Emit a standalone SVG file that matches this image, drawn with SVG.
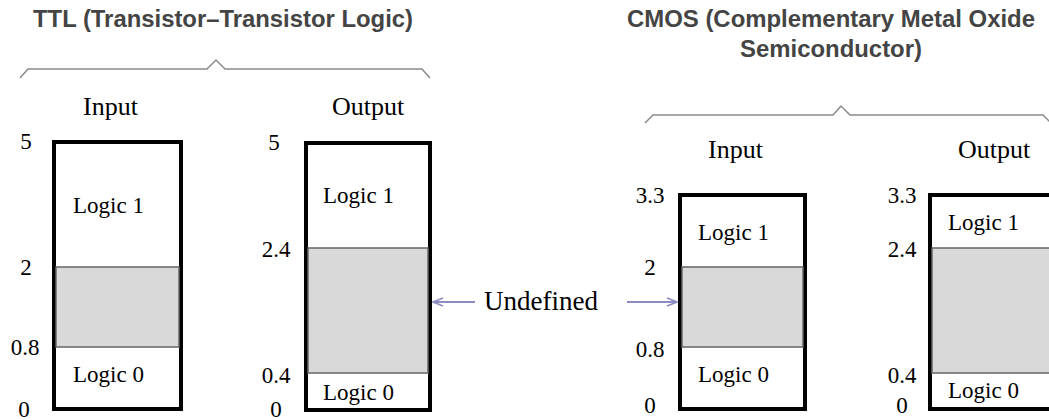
<svg xmlns="http://www.w3.org/2000/svg" width="1049" height="420" viewBox="0 0 1049 420">
  <style>
    .title { font-family: "Liberation Sans", Arial, sans-serif; font-weight: bold; font-size: 23px; fill: #444; }
    .head { font-family: "Liberation Serif", "Times New Roman", serif; font-size: 26px; fill: #000; }
    .lbl { font-family: "Liberation Serif", "Times New Roman", serif; font-size: 23px; fill: #000; }
    .num { font-family: "Liberation Serif", "Times New Roman", serif; font-size: 23px; fill: #000; text-anchor: middle; }
    .brace { fill: none; stroke: #8a8a8a; stroke-width: 1.5; }
    .box { fill: #fff; stroke: #000; stroke-width: 4; }
    .band { fill: #d9d9d9; stroke: #666; stroke-width: 1.5; }
    .arrow { fill: none; stroke: #8c8cc0; stroke-width: 2; }
    .note { font-family: "Liberation Serif", "Times New Roman", serif; font-size: 27px; fill: #000; }
  </style>
  <defs>
    <marker id="openHead" viewBox="0 0 12 10" refX="11" refY="5" markerWidth="12" markerHeight="10" markerUnits="userSpaceOnUse" orient="auto">
      <path d="M1 1 L11 5 L1 9" fill="none" stroke="#8c8cc0" stroke-width="1.6"/>
    </marker>
  </defs>

  <!-- TTL family -->
  <g id="ttl-title">
    <text class="title" x="33" y="27" textLength="380" lengthAdjust="spacingAndGlyphs">TTL (Transistor–Transistor Logic)</text>
    <path class="brace" d="M20 78 L28 69 L207 69 L216 60 L225 69 L422 69 L430 78"/>
  </g>

  <g id="ttl-input">
    <text class="head" x="83" y="115">Input</text>
    <rect class="box" x="54" y="142" width="127" height="267"/>
    <rect class="band" x="56" y="267" width="123" height="80"/>
    <text class="lbl" x="73" y="213">Logic 1</text>
    <text class="lbl" x="73" y="382">Logic 0</text>
    <text class="num" x="26" y="149">5</text>
    <text class="num" x="26" y="275">2</text>
    <text class="num" x="25" y="355">0.8</text>
    <text class="num" x="24" y="417">0</text>
  </g>

  <g id="ttl-output">
    <text class="head" x="332" y="115">Output</text>
    <rect class="box" x="306" y="143" width="124" height="267"/>
    <rect class="band" x="308" y="248" width="120" height="125"/>
    <text class="lbl" x="323" y="203">Logic 1</text>
    <text class="lbl" x="323" y="400">Logic 0</text>
    <text class="num" x="274" y="150">5</text>
    <text class="num" x="276" y="257">2.4</text>
    <text class="num" x="276" y="383">0.4</text>
    <text class="num" x="276" y="417">0</text>
  </g>

  <!-- CMOS family -->
  <g id="cmos-title">
    <text class="title" x="627" y="27" textLength="408" lengthAdjust="spacingAndGlyphs">CMOS (Complementary Metal Oxide</text>
    <text class="title" x="740" y="57" textLength="182" lengthAdjust="spacingAndGlyphs">Semiconductor)</text>
    <path class="brace" d="M645 123 L653 115 L833 115 L841 106 L850 115 L1043 115 L1051 123"/>
  </g>

  <g id="cmos-input">
    <text class="head" x="708" y="158">Input</text>
    <rect class="box" x="680" y="195" width="125" height="214"/>
    <rect class="band" x="682" y="267" width="121" height="80"/>
    <text class="lbl" x="698" y="240">Logic 1</text>
    <text class="lbl" x="698" y="382">Logic 0</text>
    <text class="num" x="650" y="203">3.3</text>
    <text class="num" x="650" y="275">2</text>
    <text class="num" x="650" y="357">0.8</text>
    <text class="num" x="650" y="413">0</text>
  </g>

  <g id="cmos-output">
    <text class="head" x="958" y="158">Output</text>
    <rect class="box" x="930" y="195" width="200" height="214"/>
    <rect class="band" x="932" y="248" width="200" height="125"/>
    <text class="lbl" x="948" y="230">Logic 1</text>
    <text class="lbl" x="948" y="398">Logic 0</text>
    <text class="num" x="902" y="203">3.3</text>
    <text class="num" x="902" y="257">2.4</text>
    <text class="num" x="902" y="383">0.4</text>
    <text class="num" x="902" y="413">0</text>
  </g>

  <!-- "Undefined" callout pointing at both grey bands -->
  <g id="undefined-label">
    <text class="note" x="484" y="310">Undefined</text>
  </g>
  <g id="connectors">
    <line class="arrow" x1="475" y1="302" x2="433" y2="302" marker-end="url(#openHead)"/>
    <line class="arrow" x1="627" y1="302" x2="677" y2="302" marker-end="url(#openHead)"/>
  </g>
</svg>
